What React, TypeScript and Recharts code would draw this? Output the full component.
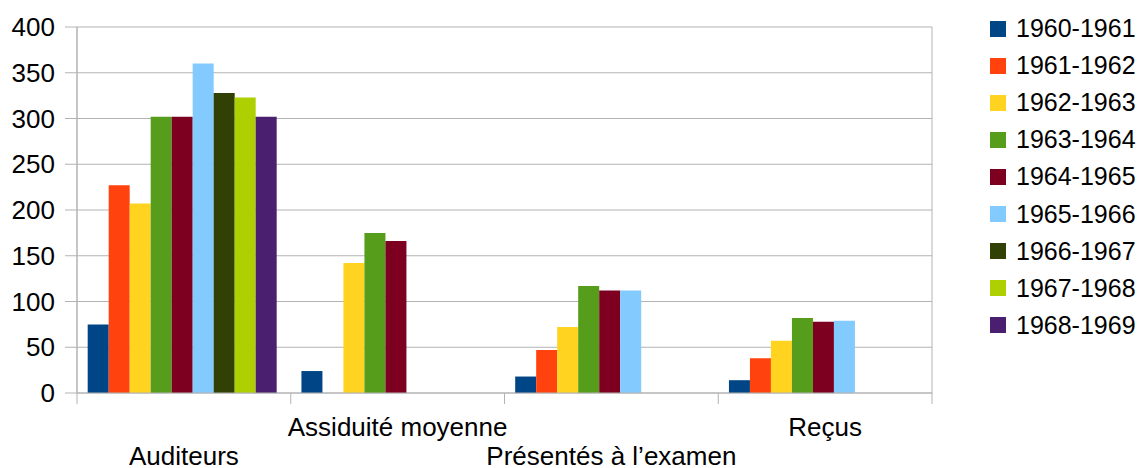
import React from 'react';
import { BarChart, Bar, XAxis, YAxis, CartesianGrid } from 'recharts';

// categories on the x axis
const categories = ['Auditeurs', 'Assiduité moyenne', 'Présentés à l\u2019examen', 'Reçus'];

// one list per academic year, in category order (null = no bar)
const y1960 = [75, 24, 18, 14];
const y1961 = [227, null, 47, 38];
const y1962 = [207, 142, 72, 57];
const y1963 = [302, 175, 117, 82];
const y1964 = [302, 166, 112, 78];
const y1965 = [360, null, 112, 79];
const y1966 = [328, null, null, null];
const y1967 = [323, null, null, null];
const y1968 = [302, null, null, null];

const seriesNames = [
    '1960-1961', '1961-1962', '1962-1963', '1963-1964', '1964-1965',
    '1965-1966', '1966-1967', '1967-1968', '1968-1969',
];
const seriesValues = [y1960, y1961, y1962, y1963, y1964, y1965, y1966, y1967, y1968];
const seriesColors = [
    '#004586', '#ff420e', '#ffd320', '#579d1c', '#7e0021',
    '#83caff', '#314004', '#aecf00', '#4b1f6f',
];

const yTicks = [0, 50, 100, 150, 200, 250, 300, 350, 400];

const data = categories.map((name, i) => {
    const row: Record<string, string | number | null> = { name };
    seriesNames.forEach((s, j) => {
        row[s] = seriesValues[j][i];
    });
    return row;
});

const FONT = '"Liberation Sans", Arial, sans-serif';
const GREY = '#b3b3b3';
const WIDTH = 1142;
const HEIGHT = 468;
const MARGIN = { top: 27, right: 210, left: 0, bottom: 0 };
const Y_AXIS_W = 77;
const BAND = (WIDTH - MARGIN.right - MARGIN.left - Y_AXIS_W) / categories.length;

function CategoryTick(props: any) {
    const { x, y, payload, index } = props;
    const half = BAND / 2;
    const lower = index % 2 === 0;
    return (
        <g>
            <line x1={x - half} x2={x - half} y1={y} y2={y + 11} stroke={GREY} />
            {index === categories.length - 1 && (
                <line x1={x + half} x2={x + half} y1={y} y2={y + 11} stroke={GREY} />
            )}
            <text
                x={x}
                y={y + (lower ? 72 : 43)}
                textAnchor="middle"
                fontSize={26}
                fontFamily={FONT}
                fill="#000"
            >
                {payload.value}
            </text>
        </g>
    );
}

// legend drawn beside the chart, from the same series lists
function LegendList() {
    return (
        <div
            style={{
                position: 'absolute',
                left: 990,
                top: 10,
                fontFamily: FONT,
                fontSize: 25,
                color: '#000',
            }}
        >
            {seriesNames.map((s, i) => (
                <div key={s} style={{ display: 'flex', alignItems: 'center', height: 37.1 }}>
                    <span
                        style={{
                            display: 'inline-block',
                            width: 16,
                            height: 16,
                            background: seriesColors[i],
                            marginRight: 10,
                        }}
                    />
                    <span>{s}</span>
                </div>
            ))}
        </div>
    );
}

export default function App() {
    return (
        <div style={{ position: 'absolute', left: 0, top: 0, width: WIDTH, height: HEIGHT, background: '#fff' }}>
            <BarChart
                width={WIDTH}
                height={HEIGHT}
                data={data}
                margin={MARGIN}
                barCategoryGap="5%"
                barGap={0}
            >
                <CartesianGrid
                    stroke={GREY}
                    verticalCoordinatesGenerator={({ offset }: any) => [offset.left, offset.left + offset.width]}
                />
                <XAxis
                    dataKey="name"
                    height={75}
                    axisLine={{ stroke: GREY }}
                    tickLine={false}
                    tickSize={0}
                    tickMargin={0}
                    interval={0}
                    tick={<CategoryTick />}
                />
                <YAxis
                    width={Y_AXIS_W}
                    domain={[0, 400]}
                    ticks={yTicks}
                    interval={0}
                    tickSize={12}
                    tickMargin={10}
                    axisLine={{ stroke: GREY }}
                    tickLine={{ stroke: GREY }}
                    tick={{ fontSize: 26, fill: '#000', fontFamily: FONT }}
                />
                {seriesNames.map((s, i) => (
                    <Bar key={s} dataKey={s} fill={seriesColors[i]} isAnimationActive={false} />
                ))}
            </BarChart>
            <LegendList />
        </div>
    );
}
